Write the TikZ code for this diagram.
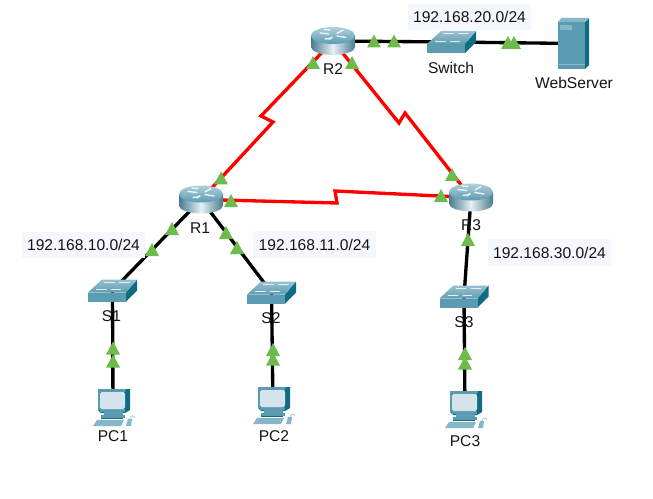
\documentclass[tikz,border=0pt]{standalone}
\usepackage{fontspec}
\setmainfont{Liberation Sans}
\definecolor{teal1}{HTML}{5A9BB2}
\definecolor{teal2}{HTML}{0F6C83}
\definecolor{teal3}{HTML}{86B7C9}
\definecolor{teal4}{HTML}{5F9DB3}
\definecolor{screen}{HTML}{D5E4EC}
\definecolor{linkgreen}{HTML}{6CBB4B}
\definecolor{labelbg}{HTML}{F5F7FF}
\definecolor{ink}{HTML}{141414}
\tikzset{
  anchorpt/.style={inner sep=0pt,minimum size=2pt},
  caption/.style={font=\fontsize{11.7}{13}\selectfont,text=ink,inner sep=0pt},
  subnet/.style={caption,fill=labelbg,minimum width=92.5pt,minimum height=20pt},
  wan/.style={draw=red,line width=2.5pt,line join=miter},
  lan/.style={draw=black,line width=2.5pt},
  linkmark/.style={fill=linkgreen},
  router/.pic={
    \path[left color=teal1!80!black,right color=teal1!80!black,middle color=white!85!teal1]
      (-22,-5.5) -- (-22,6) arc[start angle=180,end angle=0,x radius=22,y radius=8] -- (22,-5.5) -- cycle;
    \path[top color=teal3!65!white,bottom color=teal1]
      (0,-5.5) ellipse[x radius=22,y radius=8.5];
    \draw[white!90!teal1,line width=1pt,line cap=round]
      (-13,-8) -- (-4,-7) (13,-3.5) -- (4,-5) (-3,-11) -- (-9,-11.5) (-8,-2) -- (-1,-3)
      (4,-7.5) -- (10,-11) (-4,-1.5) -- (-1,-4);
  },
  switchbox/.pic={
    \fill[teal2] (13.5,2) -- (24.5,-11) -- (24.5,0) -- (13.5,11) -- cycle;
    \fill[teal1] (-24.5,2) rectangle (13.5,11);
    \path[top color=teal3!85!white,bottom color=teal4] (-24.5,2) -- (-10.5,-11) -- (24.5,-11) -- (13.5,2) -- cycle;
    \draw[white!85!teal1,line width=.5pt,line cap=round]
      (-8,-8.5) -- (2,-8.5) (7,-8.5) -- (17,-8.5) (-16,-1) -- (-6,-1) (-1,-1) -- (8,-1);
  },
  serverbox/.pic={
    \fill[teal2] (11.5,-21.5) -- (15.5,-25.5) -- (15.5,21.5) -- (11.5,25.5) -- cycle;
    \fill[teal3] (-15.5,-21.5) -- (-12,-25.5) -- (15.5,-25.5) -- (11.5,-21.5) -- cycle;
    \fill[teal1] (-15.5,-21.5) rectangle (11.5,25.5);
    \fill[teal3] (-13.5,-18.5) rectangle (-1.5,-13.5);
    \fill[teal3] (-15.5,21) rectangle (11.5,22);
  },
  pcbox/.pic={
    % monitor
    \fill[teal2] (-15,0) -- (17,0) -- (17,21) -- (12,24) -- (-12,24) -- (-15,21) -- cycle;
    \fill[teal1] (-15,0) -- (13,0) -- (12,3) -- (-13,3) -- (-13,21) -- (-15,21) -- cycle;
    \fill[teal1] (-13,20) rectangle (12,23);
    \fill[screen,rounded corners=1.5pt] (-13,3) rectangle (12,20);
    % stand and keyboard
    \fill[teal4] (-9,23) rectangle (10,26);
    \fill[teal1] (-12,26) rectangle (12,28.5);
    \fill[teal2] (-12,28.5) rectangle (10,30);
    \fill[teal3] (-16,31) -- (11,31) -- (8,37) -- (-20,37) -- cycle;
    % mouse and its cable
    \fill[teal3] (15,30) -- (19,30) -- (18,37) -- (13,37) -- cycle;
    \draw[teal3!60!white,line width=.8pt] (17,30) .. controls (18,26) and (21,26) .. (22,29);
  },
}
\begin{document}
\begin{tikzpicture}[x=0.75pt,y=-0.75pt]
\useasboundingbox[fill=white] (0,0) rectangle (653,499);

% device positions
\node[anchorpt] (R1) at (201,199.5) {};
\node[anchorpt] (R2) at (333,41) {};
\node[anchorpt] (R3) at (471,197.5) {};
\node[anchorpt] (SW) at (451.5,42) {};
\node[anchorpt] (S1) at (112.5,290.5) {};
\node[anchorpt] (S2) at (271.5,292.5) {};
\node[anchorpt] (S3) at (464,296.5) {};
\node[anchorpt] (SRV) at (573.5,43.5) {};
\node[anchorpt] (PC1) at (113,407) {};
\node[anchorpt] (PC2) at (273,405) {};
\node[anchorpt] (PC3) at (465,409) {};

% serial links with their zigzag
\coordinate (b1) at (273,122);
\coordinate (b2) at (261,116);
\coordinate (b3) at (399,123);
\coordinate (b4) at (405,113);
\coordinate (b5) at (337,203);
\coordinate (b6) at (335,191);
\draw[wan] (R2.center) -- (b2) -- (b1) -- (R1.center);
\draw[wan] (R2.center) -- (b3) -- (b4) -- (R3.center);
\draw[wan] (R1.center) -- (b5) -- (b6) -- (R3.center);

% ethernet links
\draw[lan] (R2.center) -- (SW.center);
\draw[lan] (SW.center) -- (SRV.center);
\draw[lan] (R1.center) -- (S1.center);
\draw[lan] (R1.center) -- (S2.center);
\draw[lan] (R3.center) -- (S3.center);
\draw[lan] (S1.center) -- (PC1.center);
\draw[lan] (S2.center) -- (PC2.center);
\draw[lan] (S3.center) -- (PC3.center);

% device icons
\pic at (R1) {router};
\pic at (R2) {router};
\pic at (R3) {router};
\pic at (SW) {switchbox};
\pic at (S1) {switchbox};
\pic at (S2) {switchbox};
\pic at (S3) {switchbox};
\pic at (SRV) {serverbox};
\pic at (113,389) {pcbox};
\pic at (273,387) {pcbox};
\pic at (465,391) {pcbox};

% subnet labels
\node[subnet] (net20) at (469.5,17) {192.168.20.0/24};
\node[subnet] (net10) at (83.5,245) {192.168.10.0/24};
\node[subnet] (net11) at (314.5,244.5) {192.168.11.0/24};
\node[subnet] (net30) at (549.5,252.5) {192.168.30.0/24};

% device names
\node[caption] (tR2) at (333,69.5) {R2};
\node[caption] (tSW) at (451,67.5) {Switch};
\node[caption] (tSRV) at (574,82.5) {WebServer};
\node[caption] (tR1) at (200,228.5) {R1};
\node[caption] (tR3) at (471,225.5) {R3};
\node[caption] (tS1) at (111.5,316.5) {S1};
\node[caption] (tS2) at (271,318) {S2};
\node[caption] (tS3) at (464,322) {S3};
\node[caption] (tPC1) at (113,436) {PC1};
\node[caption] (tPC2) at (274,436) {PC2};
\node[caption] (tPC3) at (465,441) {PC3};

% link state markers
\foreach \mx/\my in {374/41, 394/41, 508/42.5, 514/42.5,
    313/62.5, 352/62.5, 221/178, 231/200.5, 172/228.5, 152/249.5,
    226/232.5, 237/247.5, 452/174.5, 441/195.5, 468/239.5,
    113/348, 113/361, 273/349.5, 273/359, 465/353.5, 465/363}
  \fill[linkmark,shift={(\mx,\my)}] (-7,6.5) -- (0,-6.5) -- (7,6.5) -- cycle;
\end{tikzpicture}
\end{document}
